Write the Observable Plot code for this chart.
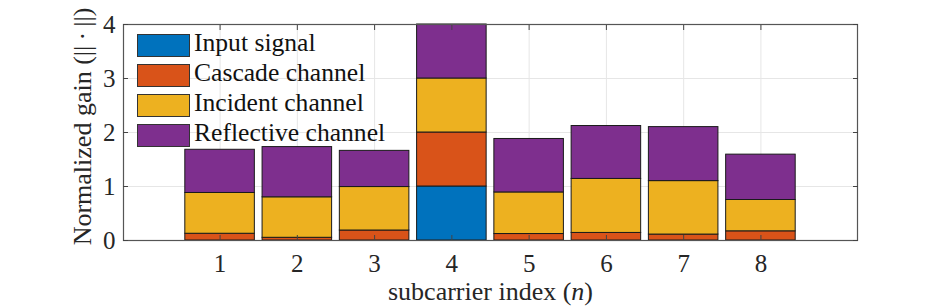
<!DOCTYPE html>
<html>
<head>
<meta charset="utf-8">
<script src="https://cdn.jsdelivr.net/npm/d3@7"></script>
<script src="https://cdn.jsdelivr.net/npm/@observablehq/plot@0.6"></script>
<style>
  html, body { margin: 0; padding: 0; background: #fff; }
  #wrap { position: relative; width: 947px; height: 308px; font-family: 'Liberation Serif', 'DejaVu Serif', serif; }
  #legend { position: absolute; left: 137px; top: 30px; font-size: 25.6px; color: #111; font-family: 'Liberation Serif', serif; }
  #legend .row { display: flex; align-items: center; height: 30px; }
  #legend .sw { width: 51px; height: 21px; border: 1px solid #333; box-sizing: content-box; }
  #legend .lbl { margin-left: 4px; position: relative; top: -2px; white-space: nowrap; line-height: 1; }
</style>
</head>
<body>
<div id="wrap"></div>
<script>
// ---- data ----
const subcarriers = [1, 2, 3, 4, 5, 6, 7, 8];
const seriesNames = ["Input signal", "Cascade channel", "Incident channel", "Reflective channel"];
const seriesColors = ["#0072BD", "#D95319", "#EDB120", "#7E2F8E"];
const inputSignal       = [0,     0,     0,     1, 0,     0,     0,     0];
const cascadeChannel    = [0.125, 0.05,  0.185, 1, 0.12,  0.14,  0.11,  0.17];
const incidentChannel   = [0.755, 0.75,  0.805, 1, 0.77,  1.00,  0.99,  0.58];
const reflectiveChannel = [0.80,  0.93,  0.67,  1, 0.99,  0.98,  1.00,  0.84];
const yTicks = [0, 1, 2, 3, 4];
const xLabel = "subcarrier index (n)";
const yLabel = "Normalized gain (||\u2009\u00B7\u2009||)";
const barWidth = 0.9;

const seriesValues = [inputSignal, cascadeChannel, incidentChannel, reflectiveChannel];
const table = [];
subcarriers.forEach((n, i) => {
  seriesNames.forEach((s, k) => table.push({ n, series: s, value: seriesValues[k][i] }));
});

const FONT = "'Liberation Serif', 'DejaVu Serif', serif";
const chart = Plot.plot({
  width: 947,
  height: 308,
  marginLeft: 123,
  marginRight: 90,
  marginTop: 24,
  marginBottom: 68,
  style: { fontFamily: FONT, fontSize: "25px", background: "white", color: "#262626", overflow: "visible" },
  x: { type: "linear", domain: [-0.25, 9.25] },
  y: { domain: [0, 4] },
  color: { domain: seriesNames, range: seriesColors },
  marks: [
    Plot.gridX(subcarriers, { stroke: "#e6e6e6", strokeOpacity: 1 }),
    Plot.gridY(yTicks, { stroke: "#e6e6e6", strokeOpacity: 1 }),
    Plot.rectY(table, {
      x1: d => d.n - barWidth / 2,
      x2: d => d.n + barWidth / 2,
      y: "value",
      fill: "series",
      stroke: "#1a1a1a",
      strokeWidth: 1
    }),
    Plot.frame({ stroke: "#555", strokeWidth: 1.2 }),
    Plot.axisX(subcarriers, { anchor: "bottom", tickSize: 0, tickPadding: 14, tickFormat: d => String(d), label: null, fill: "#262626" }),
    Plot.axisX(subcarriers, { anchor: "bottom", tickSize: -5, tickFormat: () => "", label: null, stroke: "#444" }),
    Plot.axisX(subcarriers, { anchor: "top", tickSize: -5, tickFormat: () => "", label: null, stroke: "#444" }),
    Plot.axisY(yTicks, { anchor: "left", tickSize: 0, tickPadding: 8, tickFormat: d => String(d), label: null, fill: "#262626" }),
    Plot.axisY(yTicks, { anchor: "left", tickSize: -5, tickFormat: () => "", label: null, stroke: "#444" }),
    Plot.axisY(yTicks, { anchor: "right", tickSize: -5, tickFormat: () => "", label: null, stroke: "#444" }),
    Plot.text([xLabel], { frameAnchor: "bottom", textAnchor: "middle", dy: 51, lineAnchor: "middle", fontSize: 26, fill: "#262626" }),
    Plot.text([yLabel], { frameAnchor: "left", textAnchor: "middle", rotate: -90, dx: -41, dy: -6, lineAnchor: "middle", fontSize: 26, fill: "#262626" })
  ]
});

// italic n in the x label
d3.select(chart).selectAll("text").filter(function () { return this.textContent === xLabel; })
  .each(function () {
    const t = d3.select(this);
    t.text(null);
    t.append("tspan").text("subcarrier index (");
    t.append("tspan").attr("font-style", "italic").text("n");
    t.append("tspan").text(")");
  });

const wrap = document.getElementById("wrap");
wrap.appendChild(chart);

// legend
const legend = document.createElement("div");
legend.id = "legend";
seriesNames.forEach((s, k) => {
  const row = document.createElement("div");
  row.className = "row";
  const sw = document.createElement("div");
  sw.className = "sw";
  sw.style.background = seriesColors[k];
  const lbl = document.createElement("span");
  lbl.className = "lbl";
  lbl.textContent = s;
  row.appendChild(sw);
  row.appendChild(lbl);
  legend.appendChild(row);
});
wrap.appendChild(legend);
</script>
</body>
</html>
